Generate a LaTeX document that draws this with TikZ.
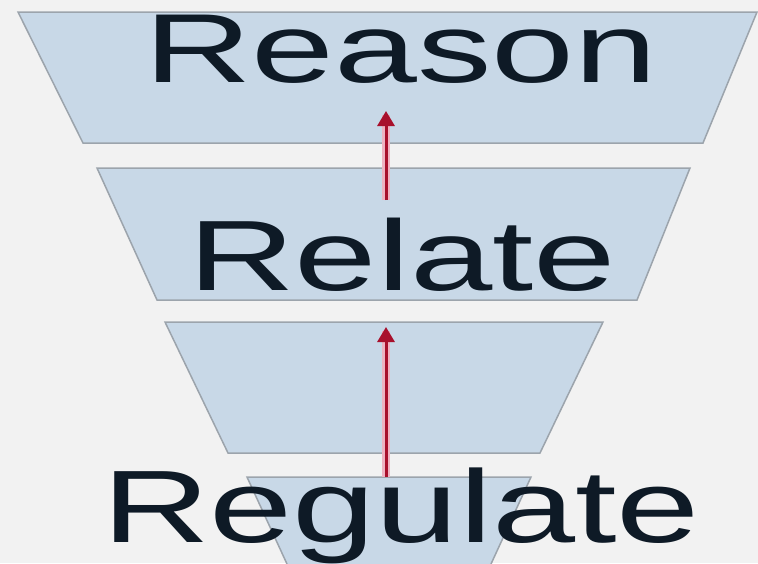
\documentclass[tikz,border=0pt]{standalone}
\usepackage{fontspec}
\setmainfont{Liberation Sans}
\usetikzlibrary{arrows.meta}
\definecolor{bg}{HTML}{F2F2F2}
\definecolor{layer}{HTML}{C8D8E7}
\definecolor{edgegray}{HTML}{9CA4AC}
\definecolor{ink}{HTML}{0E1A26}
\definecolor{arrowred}{HTML}{A8102C}
\definecolor{glow}{HTML}{EDB3C2}
\begin{document}
\begin{tikzpicture}[x=1pt,y=-1pt,
  layerbox/.style={fill=layer,draw=edgegray,line width=1.5pt,line join=miter},
  word/.style={text=ink,inner sep=0pt,anchor=base},
  uparrow/.style={draw=arrowred,line width=3pt,-{Triangle[width=17pt,length=15pt]},
    preaction={draw=glow,line width=8pt,arrows=-,shorten >=4pt}}]
  % background
  \fill[bg] (0,0) rectangle (758,563);
  \useasboundingbox (0,0) rectangle (758,563);
  % layers
  \draw[layerbox] (18,12) -- (757,12) -- (703,143) -- (83,143) -- cycle;
  \draw[layerbox] (97,168) -- (690,168) -- (637,300) -- (157,300) -- cycle;
  \draw[layerbox] (165,322) -- (603,322) -- (540,453) -- (228,453) -- cycle;
  \fill[layer] (247,477) -- (531,477) -- (491,564) -- (287,564) -- cycle;
  \draw[edgegray,line width=1.5pt] (287,564) -- (247,477) -- (531,477) -- (491,564);
  % words
  \node[word] (reason) at (401,82) {\fontsize{98}{98}\selectfont\scalebox{1.52}[1]{Reason}};
  \node[word] (relate) at (402,290) {\fontsize{100}{100}\selectfont\scalebox{1.48}[1]{Relate}};
  \node[word] (regulate) at (401,542) {\fontsize{103}{103}\selectfont\scalebox{1.45}[1]{Regulate}};
  % arrows
  \coordinate (a1s) at (386,200);
  \coordinate (a1e) at (386,111);
  \coordinate (a2s) at (386,477);
  \coordinate (a2e) at (386,327);
  \draw[uparrow] (a1s) -- (a1e);
  \draw[uparrow] (a2s) -- (a2e);
\end{tikzpicture}
\end{document}
